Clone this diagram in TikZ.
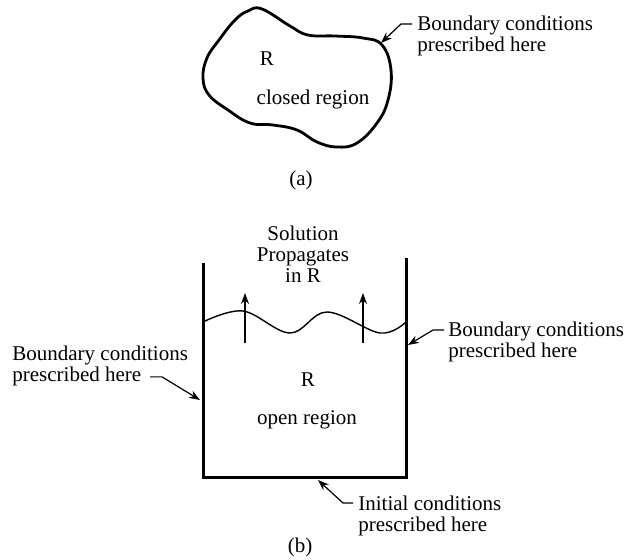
\documentclass[tikz,border=0pt]{standalone}
\usepackage{fontspec}
\setmainfont{Liberation Serif}
\usetikzlibrary{arrows.meta}
\usetikzlibrary{calc}
\tikzset{>={Stealth[length=5.5pt,width=4pt]}}

\begin{document}
\begin{tikzpicture}[
        x=0.5pt, y=-0.5pt,
        every node/.style={inner sep=0pt,font=\fontsize{10.5}{10.5}\selectfont},
        note/.style={align=left},
        lead/.style={line width=0.6pt,->},
        rise/.style={line width=0.7pt,->},
        wall/.style={line width=1.5pt}
    ]
    \useasboundingbox (0,0) rectangle (627,559);

    \draw[line width=1.4pt] plot[smooth cycle,tension=0.7] coordinates {
        (262,9) (290,26) (308,35) (335,36) (363,38) (382,45) (391,70)
        (388,100) (377,123) (357,143) (337,147) (317,142) (297,130)
        (273,125) (250,123) (228,110) (209,95) (203,78) (207,58)
        (219,40) (235,20) (248,11)};
    \node (ra) at (267,59) {R};
    \node (closed) at (313,99) {closed region};

    \node[note,anchor=north west] (bca) at (417,16) {Boundary conditions\\prescribed here};
    \coordinate (pa) at (381,43);
    \draw[lead] (bca.north west) ++(-5,8) -- ++(-11,0) -- (pa);

    \node (capa) at (301,180) {(a)};

    \node[align=center] (sol) at (303,254) {Solution\\Propagates\\in R};

    \coordinate (tl) at (203,263);
    \coordinate (bl) at (203,477);
    \coordinate (br) at (406,477);
    \coordinate (tr) at (406,258);
    \draw[wall] (tl) -- (bl) -- (br) -- (tr);

    \draw[line width=0.7pt] plot[smooth,tension=0.6] coordinates {
        (203,322) (243,311) (290,333) (327,312) (380,333) (406,322)};
    \foreach \x in {245,363}
        \draw[rise] (\x,343) -- (\x,293);

    \node (rb) at (308,380) {R};
    \node (open) at (307,420) {open region};

    \node[note,anchor=north west] (bcr) at (448,322) {Boundary conditions\\prescribed here};
    \coordinate (pr) at (408,345);
    \draw[lead] (bcr.north west) ++(-4,8) -- ++(-11,0) -- (pr);

    \node[note,anchor=north west] (bcl) at (12,346) {Boundary conditions\\prescribed here};
    \coordinate (pl) at (200,400);
    \draw[lead] (bcl.south west) ++(138,-10) -- ++(12,0) -- (pl);

    \node[note,anchor=north west] (icb) at (358,496) {Initial conditions\\prescribed here};
    \coordinate (pb) at (318,480);
    \draw[lead] (icb.north west) ++(-5,7) -- ++(-10,0) -- (pb);

    \node (capb) at (300,547) {(b)};
\end{tikzpicture}
\end{document}
